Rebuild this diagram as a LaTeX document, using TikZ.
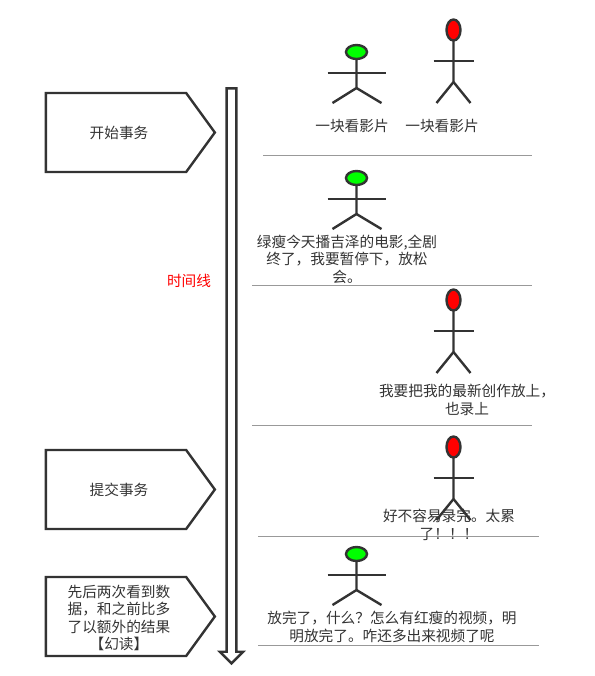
\documentclass[tikz,border=0pt]{standalone}
\usepackage{fontspec}
\setmainfont{Noto Sans CJK SC}
\usetikzlibrary{shapes.symbols, shapes.arrows, positioning}
\definecolor{inkgray}{HTML}{333333}
\definecolor{rulegray}{HTML}{999999}

\begin{document}
\begin{tikzpicture}[
    x=0.75pt, y=-0.75pt,
    stage/.style={signal, signal to=east, signal from=nowhere, signal pointer angle=108,
                  draw=inkgray, line width=1.8pt, inner sep=0pt,
                  minimum width=126.75pt, minimum height=59.25pt, text=inkgray,
                  align=center, font=\fontsize{11}{13.2}\selectfont},
    talk/.style={align=center, inner sep=0pt, text=inkgray, font=\fontsize{11}{13.2}\selectfont},
    timeline/.style={single arrow, draw=inkgray, line width=1.8pt, rotate=-90, inner sep=2.75pt,
                     minimum height=431.25pt, single arrow head extend=5.1pt},
    sep/.style={draw=rulegray, line width=0.75pt},
    limb/.style={draw=inkgray, line width=1.8pt},
    % figures are anchored at the centre of the head
    greenman/.pic={
        \draw[limb] (0,7) -- (0,36) -- (-24,51);
        \draw[limb] (0,36) -- (25,51);
        \draw[limb] (-29,21) -- (29,21);
        \draw[limb, fill=green] (0,0) ellipse [x radius=10.5, y radius=7];
    },
    redman/.pic={
        \draw[limb] (0,10) -- (0,52) -- (-17,73);
        \draw[limb] (0,52) -- (17,73);
        \draw[limb] (-20,31) -- (20,31);
        \draw[limb, fill=red] (0,0) ellipse [x radius=7, y radius=10.5];
    }
]
\useasboundingbox (0,0) rectangle (594,676);

% separators
\draw[sep] (263,155) -- (532,155);
\draw[sep] (252,285) -- (532,285);
\draw[sep] (252,425) -- (532,425);
\draw[sep] (258,536) -- (539,536);
\draw[sep] (258,645) -- (539,645);

% time axis
\node[timeline] (axis) at (231.5,373.5) {};
\node[talk, text=red] (axislabel) at (189,281) {时间线};

% left column
\node[stage] (begintx) at (116,132.5) {};
\node[talk] (begintxt) at (119,132.5) {开始事务};
\node[stage] (committx) at (116,489.5) {};
\node[talk] (committxt) at (119,490) {提交事务};
\node[stage] (phantom) at (116,616.5) {};
\node[talk] (phantomtxt) at (119,618) {先后两次看到数\\据，和之前比多\\了以额外的结果\\【幻读】};

% figures
\pic at (356.5,52) {greenman};
\pic at (453.5,30) {redman};
\pic at (356.5,178) {greenman};
\pic at (453.5,300) {redman};
\pic at (453.5,447) {redman};
\pic at (356.5,554) {greenman};

% what they say
\node[talk] (watcha) at (352,126) {一块看影片};
\node[talk] (watchb) at (442,126) {一块看影片};
\node[talk] (pause) at (347,259) {绿瘦今天播吉泽的电影,全剧\\终了，我要暂停下，放松\\会。};
\node[talk] (record) at (467,400) {我要把我的最新创作放上，\\也录上};
\node[talk] (tired) at (449,525) {好不容易录完。太累\\了！！！};
\node[talk] (surprise) at (392,627) {放完了，什么？怎么有红瘦的视频，明\\明放完了。咋还多出来视频了呢};
\end{tikzpicture}
\end{document}
